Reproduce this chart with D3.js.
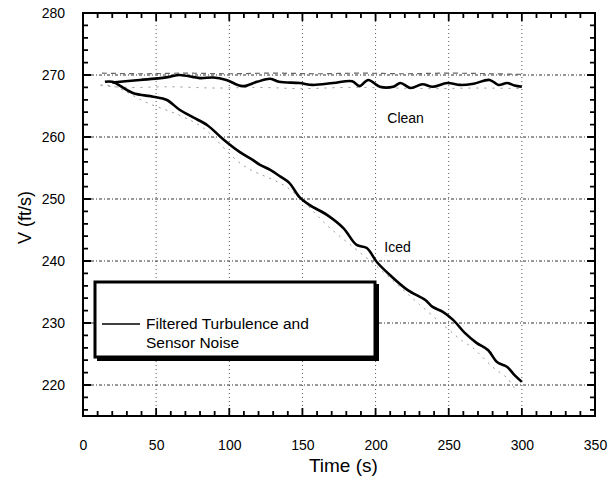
<!DOCTYPE html>
<html>
<head>
<meta charset="utf-8">
<script src="https://cdn.jsdelivr.net/npm/d3@7"></script>
<style>
  body { margin: 0; background: #fff; }
  text { font-family: "Liberation Sans", Arial, sans-serif; fill: #000; }
</style>
</head>
<body>
<svg id="chart" width="615" height="482"></svg>
<script>
// filtered (thick) traces
const cleanT = [20, 39, 53, 59, 66, 80, 89, 98, 109, 119, 128, 134, 148, 157, 171, 184, 189, 195, 203, 212, 217, 224, 232, 239, 249, 258, 267, 278, 284, 290, 295, 300];
const cleanV = [268.8, 269.2, 269.5, 269.7, 270.0, 269.5, 269.6, 269.2, 268.2, 268.9, 269.4, 268.9, 268.7, 268.4, 268.7, 269.0, 268.2, 269.2, 268.1, 268.1, 268.7, 267.9, 268.5, 268.1, 268.7, 268.4, 268.6, 269.2, 268.4, 268.7, 268.3, 268.1];
const icedT = [15, 20, 34, 48, 57, 66, 75, 85, 96, 107, 116, 121, 128, 135, 141, 148, 155, 167, 178, 187, 194, 201, 210, 222, 234, 239, 246, 253, 261, 269, 277, 283, 290, 295, 300];
const icedV = [268.9, 268.9, 267.1, 266.5, 266.0, 264.4, 263.2, 261.9, 259.6, 257.6, 256.3, 255.5, 254.7, 253.6, 252.6, 250.3, 249.0, 247.4, 245.3, 242.6, 242.1, 239.8, 237.7, 235.3, 233.7, 232.6, 231.8, 230.5, 228.4, 226.8, 225.6, 223.7, 222.9, 221.6, 220.5];
// raw (unfiltered) traces, light grey
const cleanRawHiT = [13, 40, 70, 100, 130, 160, 190, 220, 250, 280, 300];
const cleanRawHiV = [270.3, 270.2, 270.3, 270.2, 270.3, 270.2, 270.3, 270.2, 270.3, 270.2, 270.1];
const cleanRawLoT = [12, 30, 60, 90, 120, 150, 180, 210, 240, 270, 300];
const cleanRawLoV = [268.3, 268.0, 268.1, 267.9, 268.0, 267.8, 268.0, 267.9, 267.8, 267.9, 267.8];
const icedRawT = [12, 22, 44, 66, 82, 109, 140, 169, 200, 230, 260, 266, 280, 290, 295];
const icedRawV = [268.4, 268.1, 265.5, 263.5, 261.5, 255.5, 251.8, 245.3, 239.3, 233.0, 227.0, 226.1, 222.9, 221.1, 219.5];

const xTicks = [0, 50, 100, 150, 200, 250, 300, 350];
const yTicks = [220, 230, 240, 250, 260, 270, 280];
const xMinorTicks = [10, 20, 30, 40, 50, 60, 70, 80, 90, 100, 110, 120, 130, 140, 150, 160, 170, 180, 190, 200, 210, 220, 230, 240, 250, 260, 270, 280, 290, 300, 310, 320, 330, 340];
const yMinorTicks = [216, 218, 220, 222, 224, 226, 228, 230, 232, 234, 236, 238, 240, 242, 244, 246, 248, 250, 252, 254, 256, 258, 260, 262, 264, 266, 268, 270, 272, 274, 276, 278];
const legendLines = ["Filtered Turbulence and", "Sensor Noise"];

const svg = d3.select("#chart");
const pLeft = 83, pRight = 595, pTop = 13, pBottom = 416;

const x = d3.scaleLinear().domain([0, 350]).range([pLeft, pRight]);
const y = d3.scaleLinear().domain([215, 280]).range([pBottom, pTop]);

// grid
svg.append("g").selectAll("line").data(xTicks.filter(d => d > 0 && d < 350)).enter()
  .append("line")
  .attr("x1", d => x(d)).attr("x2", d => x(d))
  .attr("y1", pTop).attr("y2", pBottom)
  .attr("stroke", "#555").attr("stroke-width", 1).attr("stroke-dasharray", "1,3");
svg.append("g").selectAll("line").data(yTicks.filter(d => d < 280)).enter()
  .append("line")
  .attr("x1", pLeft).attr("x2", pRight)
  .attr("y1", d => y(d)).attr("y2", d => y(d))
  .attr("stroke", "#333").attr("stroke-width", 1).attr("stroke-dasharray", "3,2,1,2");

// inward ticks on all four sides, drawn as one path
let tickPath = "";
xMinorTicks.forEach(d => {
  const len = d % 50 === 0 ? 8 : 5;
  tickPath += `M${x(d)},${pBottom}v${-len}M${x(d)},${pTop}v${len}`;
});
yMinorTicks.forEach(d => {
  const len = d % 10 === 0 ? 8 : 5;
  tickPath += `M${pLeft},${y(d)}h${len}M${pRight},${y(d)}h${-len}`;
});
svg.append("path").attr("d", tickPath)
  .attr("fill", "none").attr("stroke", "#000").attr("stroke-width", 1.8);

// tick labels
svg.append("g").attr("transform", `translate(0,${pBottom + 18})`)
  .call(d3.axisBottom(x).tickValues(xTicks).tickSize(0).tickPadding(6))
  .call(g => g.select(".domain").remove())
  .selectAll("text").attr("font-size", 14).attr("font-family", "Liberation Sans");
svg.append("g").attr("transform", `translate(${pLeft - 12},0)`)
  .call(d3.axisLeft(y).tickValues(yTicks).tickSize(0).tickPadding(6))
  .call(g => g.select(".domain").remove())
  .selectAll("text").attr("font-size", 14).attr("font-family", "Liberation Sans");

// frame
svg.append("rect").attr("x", pLeft).attr("y", pTop)
  .attr("width", pRight - pLeft).attr("height", pBottom - pTop)
  .attr("fill", "none").attr("stroke", "#000").attr("stroke-width", 2);

const line = d3.line().x(d => x(d[0])).y(d => y(d[1])).curve(d3.curveCatmullRom);

// raw traces
svg.append("path").datum(d3.zip(cleanRawHiT, cleanRawHiV)).attr("d", line)
  .attr("fill", "none").attr("stroke", "#666").attr("stroke-width", 1.2).attr("stroke-dasharray", "5,4");
svg.append("path").datum(d3.zip(cleanRawLoT, cleanRawLoV)).attr("d", line)
  .attr("fill", "none").attr("stroke", "#999").attr("stroke-width", 1).attr("stroke-dasharray", "2,6");
svg.append("path").datum(d3.zip(icedRawT, icedRawV)).attr("d", line)
  .attr("fill", "none").attr("stroke", "#999").attr("stroke-width", 1).attr("stroke-dasharray", "2,5");

// filtered traces
svg.append("path").datum(d3.zip(cleanT, cleanV)).attr("d", line)
  .attr("fill", "none").attr("stroke", "#000").attr("stroke-width", 2.6);
svg.append("path").datum(d3.zip(icedT, icedV)).attr("d", line)
  .attr("fill", "none").attr("stroke", "#000").attr("stroke-width", 2.6);

// curve labels
svg.append("text").attr("x", x(208)).attr("y", y(262.2)).attr("font-size", 14).text("Clean");
svg.append("text").attr("x", x(206)).attr("y", y(241.4)).attr("font-size", 14).text("Iced");

// legend
svg.append("rect").attr("x", 97).attr("y", 284).attr("width", 282).attr("height", 77)
  .attr("fill", "#000");
svg.append("rect").attr("x", 95).attr("y", 282).attr("width", 280).attr("height", 75)
  .attr("fill", "#fff").attr("stroke", "#000").attr("stroke-width", 3);
svg.append("line").attr("x1", 102).attr("x2", 140).attr("y1", 324).attr("y2", 324)
  .attr("stroke", "#000").attr("stroke-width", 1.5);
svg.append("g").selectAll("text").data(legendLines).enter()
  .append("text")
  .attr("x", 146).attr("y", (d, i) => 329 + i * 19)
  .attr("font-size", 15.5).text(d => d);

// axis titles
svg.append("text").attr("x", x(178)).attr("y", 472).attr("text-anchor", "middle")
  .attr("font-size", 19).text("Time (s)");
svg.append("text").attr("transform", `translate(31,${y(247)}) rotate(-90)`)
  .attr("text-anchor", "middle").attr("font-size", 18).text("V (ft/s)");
</script>
</body>
</html>
